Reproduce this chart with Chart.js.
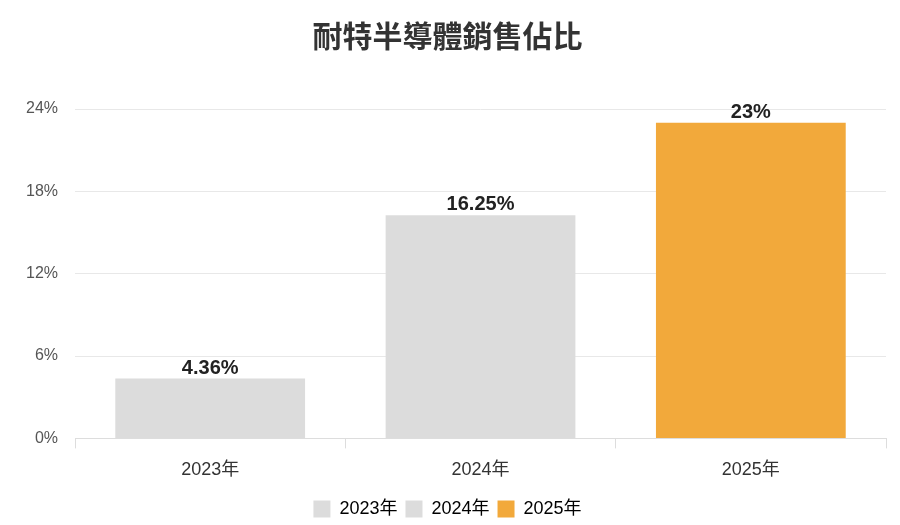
<!DOCTYPE html>
<html>
<head>
<meta charset="utf-8">
<script src="https://cdn.jsdelivr.net/npm/chart.js@4"></script>
<style>
  html, body { margin: 0; padding: 0; background: #fff; }
  #wrap { width: 900px; height: 525px; }
</style>
</head>
<body>
<div id="wrap"><canvas id="myChart"></canvas></div>
<script>
const labels = ['2023年', '2024年', '2025年'];
const shares = [4.36, 16.25, 23];
const shareText = ['4.36%', '16.25%', '23%'];
const barColors = ['#dcdcdc', '#dcdcdc', '#f2a93b'];
const yTicks = [0, 6, 12, 18, 24];

const font = '"Liberation Sans", "Noto Sans CJK TC", sans-serif';
const titleFont = '"Noto Sans CJK TC", sans-serif';

// draws the value above each bar
const valueLabels = {
    id: 'valueLabels',
    afterDatasetsDraw(chart) {
        const ctx = chart.ctx;
        const meta = chart.getDatasetMeta(0);
        ctx.save();
        ctx.font = 'bold 20px ' + font;
        ctx.fillStyle = '#222';
        ctx.textAlign = 'center';
        ctx.textBaseline = 'alphabetic';
        meta.data.forEach((bar, i) => {
            ctx.fillText(shareText[i], bar.x, bar.y - 5);
        });
        ctx.restore();
    }
};

const data = {
    labels: labels,
    datasets: [{
        label: '銷售佔比',
        data: shares,
        backgroundColor: barColors,
        borderWidth: 0,
        categoryPercentage: 0.78,
        barPercentage: 0.9,
    }]
};

const config = {
    type: 'bar',
    data: data,
    plugins: [valueLabels],
    options: {
        responsive: true,
        maintainAspectRatio: false,
        animation: false,
        layout: { padding: { left: 9, right: 14, top: 18, bottom: -3 } },
        plugins: {
            title: {
                display: true,
                text: '耐特半導體銷售佔比',
                color: '#333',
                font: { family: titleFont, size: 30, weight: 'bold' },
                padding: { top: 0, bottom: 55 }
            },
            legend: {
                position: 'bottom',
                labels: {
                    color: '#444',
                    font: { family: font, size: 18 },
                    boxWidth: 17,
                    boxHeight: 17,
                    padding: 8,
                    generateLabels: () => labels.map((l, i) => ({
                        text: l,
                        fillStyle: barColors[i],
                        strokeStyle: barColors[i],
                        lineWidth: 0,
                        index: i
                    }))
                },
                onClick: () => {}
            },
            tooltip: { enabled: false }
        },
        scales: {
            x: {
                grid: { drawOnChartArea: false, drawTicks: true, tickLength: 10, color: '#ddd' },
                border: { color: '#ddd' },
                ticks: { color: '#333', font: { family: font, size: 18 }, padding: 11 }
            },
            y: {
                min: 0,
                max: 24,
                afterBuildTicks: (axis) => { axis.ticks = yTicks.map(v => ({ value: v })); },
                grid: { color: '#e8e8e8', drawTicks: false },
                border: { display: false },
                ticks: {
                    color: '#555',
                    font: { family: font, size: 16 },
                    padding: 17,
                    callback: (v) => v + '%'
                }
            }
        }
    }
};

const myChart = new Chart(document.getElementById('myChart'), config);
</script>
</body>
</html>
